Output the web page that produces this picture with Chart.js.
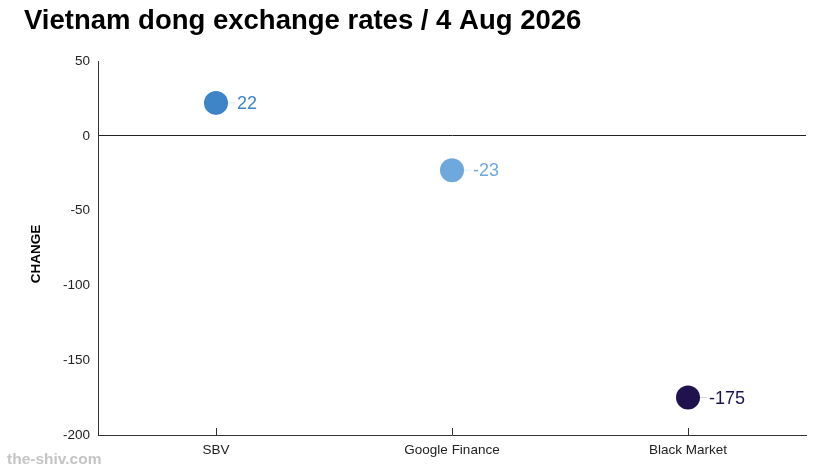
<!DOCTYPE html>
<html>
<head>
<meta charset="utf-8">
<script src="https://cdn.jsdelivr.net/npm/chart.js@4"></script>
<style>
html,body{margin:0;padding:0;background:#fff;}
#wrap{width:833px;height:476px;position:relative;}
</style>
</head>
<body>
<div id="wrap"><canvas id="c" width="833" height="476"></canvas></div>
<script>
const categories = ["SBV", "Google Finance", "Black Market"];
const changes = [22, -23, -175];
const pointColors = ["#3d85c6", "#6fa8dc", "#20124d"];
const yTicks = [50, 0, -50, -100, -150, -200];
const titleText = "Vietnam dong exchange rates / 4 Aug 2026";
const yTitle = "CHANGE";
const watermark = "the-shiv.com";

const FONT = '"Liberation Sans", Arial, sans-serif';

const decor = {
  id: 'decor',
  afterDraw(chart) {
    const ctx = chart.ctx;
    const area = chart.chartArea;
    const xs = chart.scales.x;
    ctx.save();
    // title
    ctx.fillStyle = '#000';
    ctx.font = 'bold 27.5px ' + FONT;
    ctx.textBaseline = 'middle';
    ctx.textAlign = 'left';
    ctx.fillText(titleText, 24, 21);
    // watermark
    ctx.fillStyle = '#c4c4c4';
    ctx.font = 'bold 15.5px ' + FONT;
    ctx.fillText(watermark, 7, 460);
    // y title
    ctx.save();
    ctx.translate(36, 254);
    ctx.rotate(-Math.PI / 2);
    ctx.textAlign = 'center';
    ctx.fillStyle = '#000';
    ctx.font = 'bold 13.5px ' + FONT;
    ctx.fillText(yTitle, 0, 0);
    ctx.restore();
    // x ticks inward
    ctx.strokeStyle = '#333';
    ctx.lineWidth = 1;
    xs.ticks.forEach((t, i) => {
      const px = Math.round(xs.getPixelForTick(i)) + 0.5;
      ctx.beginPath();
      ctx.moveTo(px, area.bottom);
      ctx.lineTo(px, area.bottom - 7);
      ctx.stroke();
    });
    // point labels
    const meta = chart.getDatasetMeta(0);
    ctx.font = '18px ' + FONT;
    ctx.textBaseline = 'middle';
    meta.data.forEach((pt, i) => {
      const c = pointColors[i];
      ctx.strokeStyle = c;
      ctx.globalAlpha = 0.2;
      ctx.beginPath();
      ctx.moveTo(pt.x + 12, pt.y);
      ctx.lineTo(pt.x + 19, pt.y);
      ctx.stroke();
      ctx.globalAlpha = 1;
      ctx.fillStyle = c;
      ctx.fillText(String(changes[i]), pt.x + 21, pt.y + 1);
    });
    ctx.restore();
  }
};

new Chart(document.getElementById('c'), {
  type: 'line',
  data: {
    labels: categories,
    datasets: [{
      data: changes,
      showLine: false,
      pointRadius: 12,
      pointHoverRadius: 12,
      pointBorderWidth: 0,
      pointBackgroundColor: pointColors,
      pointBorderColor: pointColors
    }]
  },
  options: {
    responsive: false,
    animation: false,
    events: [],
    layout: { padding: { left: 24, top: 61, right: 27, bottom: 0 } },
    plugins: { legend: { display: false }, tooltip: { enabled: false }, title: { display: false } },
    scales: {
      x: {
        offset: true,
        grid: { display: false, drawOnChartArea: false, drawTicks: false },
        border: { display: true, color: '#333', width: 1 },
        ticks: { color: '#222', font: { size: 13.5, family: FONT }, padding: 7 },
        afterFit(s) { s.height = 41; }
      },
      y: {
        min: -200, max: 50,
        afterBuildTicks(s) { s.ticks = yTicks.map(v => ({ value: v })); },
        grid: {
          drawTicks: false,
          color: ctx => (ctx.tick && ctx.tick.value === 0) ? '#222' : 'rgba(0,0,0,0)'
        },
        border: { display: true, color: '#333', width: 1 },
        ticks: { color: '#222', font: { size: 13.5, family: FONT }, padding: 8 },
        afterFit(s) { s.width = 74; }
      }
    }
  },
  plugins: [decor]
});
</script>
</body>
</html>
